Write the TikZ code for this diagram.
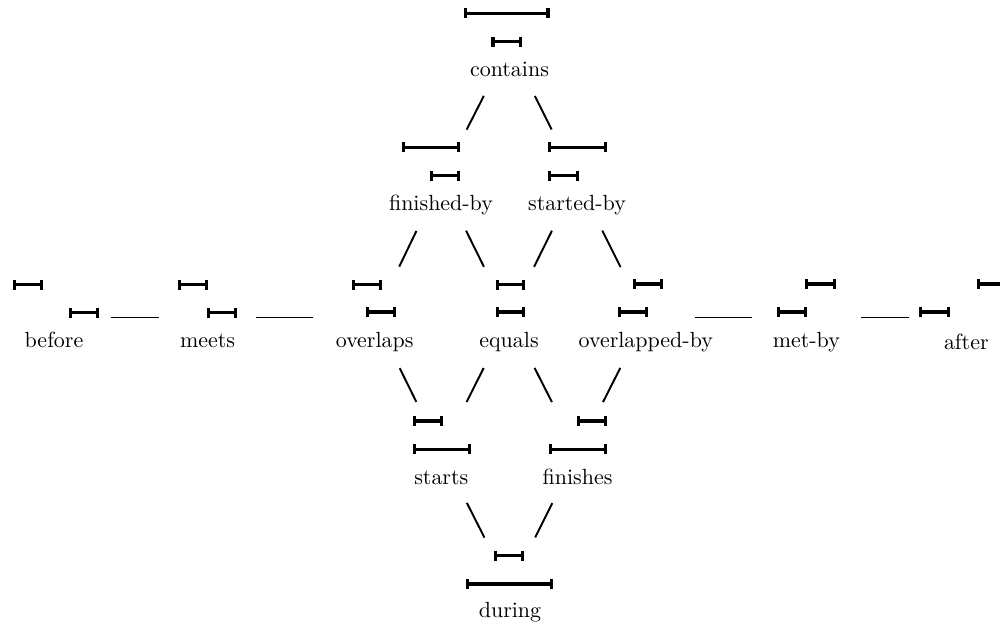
\documentclass[tikz,border=0pt]{standalone}
\begin{document}
\tikzset{
  barline/.style={line width=1.8pt},
  conn/.style={line width=1.1pt, shorten <=1.13cm, shorten >=1.13cm},
  hconn/.style={line width=1.1pt},
  lab/.style={anchor=base, inner sep=0pt, scale=1.25},
}
\newcommand{\ivl}[3]{\draw[barline] (#1,#3-5) -- (#1,#3+5) (#1,#3) -- (#2,#3) (#2,#3-5) -- (#2,#3+5);}
\begin{tikzpicture}[x=0.02cm, y=-0.02cm]
\useasboundingbox (0,0) rectangle (1000,625);
\clip (0,0) rectangle (1000,625);
% relation centres
\coordinate (contains) at (509.5,45.5);
\coordinate (finishedby) at (441,180);
\coordinate (startedby) at (577,180);
\coordinate (before) at (54,317.5);
\coordinate (meets) at (207.5,317.5);
\coordinate (overlaps) at (374.7,317.5);
\coordinate (equals) at (509,317.5);
\coordinate (overlappedby) at (645.8,317.5);
\coordinate (metby) at (806.3,317.5);
\coordinate (after) at (966.3,317.5);
\coordinate (starts) at (441.3,452.5);
\coordinate (finishes) at (577.5,452.5);
\coordinate (during) at (510,588);
% labels
\node[lab] (l-contains) at (509.5,76.3) {contains};
\node[lab] (l-finishedby) at (441,210.3) {finished-by};
\node[lab] (l-startedby) at (577,210.3) {started-by};
\node[lab] (l-before) at (54,347.5) {before};
\node[lab] (l-meets) at (207.5,347.5) {meets};
\node[lab] (l-overlaps) at (374.7,347.5) {overlaps};
\node[lab] (l-equals) at (509,347.5) {equals};
\node[lab] (l-overlappedby) at (645.8,347.5) {overlapped-by};
\node[lab] (l-metby) at (806.3,347.5) {met-by};
\node[lab] (l-after) at (966.3,349) {after};
\node[lab] (l-starts) at (441.3,484) {starts};
\node[lab] (l-finishes) at (577.5,484) {finishes};
\node[lab] (l-during) at (510,617) {during};
% interval bars
\ivl{465.5}{548}{13.3}
\ivl{493}{520.5}{41.7}
\ivl{403.2}{458.5}{147.3}
\ivl{431.5}{458.5}{175.7}
\ivl{549.8}{605.8}{147.3}
\ivl{549.8}{577.5}{175.7}
\ivl{14.2}{41.2}{284.5}
\ivl{70.8}{97.8}{312.5}
\ivl{179.8}{206.8}{284.5}
\ivl{208.2}{235.2}{312.5}
\ivl{353.2}{380.2}{284.5}
\ivl{367.5}{394.5}{312}
\ivl{497.2}{523.5}{284.5}
\ivl{497.2}{523.5}{312}
\ivl{634.2}{661.2}{284}
\ivl{619.2}{646.2}{312}
\ivl{806.5}{834.5}{284}
\ivl{778.2}{805.8}{312}
\ivl{978.2}{1005.7}{284}
\ivl{920.8}{948.5}{312}
\ivl{414.2}{441.2}{421}
\ivl{414.2}{469.5}{449.3}
\ivl{578.8}{605.8}{421}
\ivl{550.5}{605.8}{449.3}
\ivl{495.8}{522.5}{555.7}
\ivl{467.5}{551.2}{584}
% connectors
\draw[conn] (contains) -- (finishedby);
\draw[conn] (contains) -- (startedby);
\draw[conn] (finishedby) -- (overlaps);
\draw[conn] (finishedby) -- (equals);
\draw[conn] (startedby) -- (equals);
\draw[conn] (startedby) -- (overlappedby);
\draw[conn] (overlaps) -- (starts);
\draw[conn] (equals) -- (starts);
\draw[conn] (equals) -- (finishes);
\draw[conn] (overlappedby) -- (finishes);
\draw[conn] (starts) -- (during);
\draw[conn] (finishes) -- (during);
\draw[hconn, shorten <=1.136cm, shorten >=0.97cm] (before) -- (meets);
\draw[hconn, shorten <=0.97cm, shorten >=1.234cm] (meets) -- (overlaps);
\draw[hconn, shorten <=0.984cm, shorten >=1.092cm] (overlappedby) -- (metby);
\draw[hconn, shorten <=1.094cm, shorten >=1.146cm] (metby) -- (after);
\end{tikzpicture}
\end{document}
